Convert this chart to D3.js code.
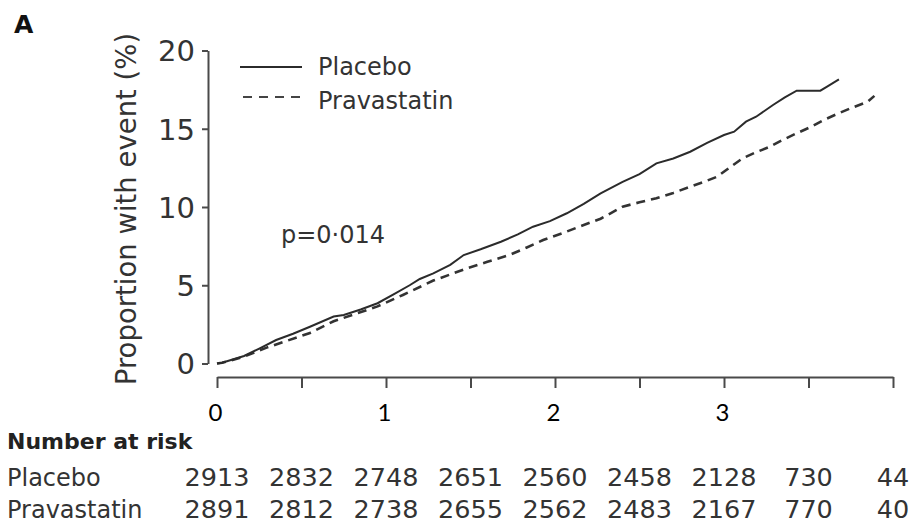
<!DOCTYPE html>
<html>
<head>
<meta charset="utf-8">
<script src="https://cdn.jsdelivr.net/npm/d3@7/dist/d3.min.js"></script>
<style>
  html, body { margin: 0; padding: 0; background: #fff; }
  svg { display: block; }
</style>
</head>
<body>
<svg id="chart" width="915" height="526"></svg>
<script>
// ---- Data ----
const seriesNames = ["Placebo", "Pravastatin"];

const placeboTime = [0, 0.03, 0.16, 0.25, 0.35, 0.45, 0.55, 0.69, 0.75, 0.85, 0.95, 1.05, 1.14, 1.2, 1.28, 1.38, 1.46, 1.56, 1.68, 1.78, 1.87, 1.97, 2.07, 2.17, 2.27, 2.4, 2.5, 2.6, 2.7, 2.8, 2.9, 3.0, 3.06, 3.13, 3.19, 3.29, 3.36, 3.43, 3.57, 3.61, 3.68];
const placeboValue = [0, 0.05, 0.48, 0.95, 1.5, 1.9, 2.35, 3.0, 3.1, 3.45, 3.85, 4.45, 5.0, 5.4, 5.76, 6.3, 6.93, 7.3, 7.78, 8.25, 8.74, 9.1, 9.6, 10.2, 10.87, 11.6, 12.1, 12.79, 13.1, 13.53, 14.1, 14.6, 14.81, 15.45, 15.77, 16.52, 17.0, 17.43, 17.43, 17.69, 18.16];

const pravaTime = [0, 0.03, 0.15, 0.29, 0.4, 0.55, 0.69, 0.8, 0.95, 1.1, 1.28, 1.48, 1.6, 1.73, 1.83, 1.93, 2.05, 2.17, 2.27, 2.4, 2.5, 2.6, 2.7, 2.8, 2.88, 2.96, 3.04, 3.11, 3.19, 3.27, 3.35, 3.43, 3.51, 3.59, 3.67, 3.75, 3.85, 3.89];
const pravaValue = [0, 0.05, 0.4, 1.0, 1.4, 1.95, 2.7, 3.1, 3.65, 4.38, 5.3, 6.08, 6.5, 6.93, 7.4, 7.89, 8.35, 8.85, 9.25, 10.02, 10.3, 10.56, 10.9, 11.3, 11.6, 11.94, 12.57, 13.11, 13.5, 13.85, 14.3, 14.71, 15.1, 15.56, 15.95, 16.31, 16.73, 17.1];

const yTicks = [0, 5, 10, 15, 20];
const xTicks = [0, 0.5, 1, 1.5, 2, 2.5, 3, 3.5, 4];
const xTickLabels = [0, 1, 2, 3];

const riskTimes = [0, 0.5, 1, 1.5, 2, 2.5, 3, 3.5, 4];
const riskPlacebo = [2913, 2832, 2748, 2651, 2560, 2458, 2128, 730, 44];
const riskPrava = [2891, 2812, 2738, 2655, 2562, 2483, 2167, 770, 40];

const panelLabel = "A";
const yTitle = "Proportion with event (%)";
const pText = "p=0·014";
const riskTitle = "Number at risk";

// ---- Drawing ----
const svg = d3.select("#chart");
const FONT = "'DejaVu Sans', sans-serif";
const INK = "#2b2b2b";
const AX = "#4a4a4a";

const x = d3.scaleLinear().domain([0, 4]).range([217, 893]);
const y = d3.scaleLinear().domain([0, 20]).range([363.5, 50.5]);

// Y axis
const yAxis = svg.append("g")
  .attr("transform", "translate(208,0)")
  .call(d3.axisLeft(y).tickValues(yTicks).tickSize(6).tickSizeOuter(0).tickPadding(7));
yAxis.select(".domain").attr("stroke", AX).attr("stroke-width", 2);
yAxis.selectAll(".tick line").attr("stroke", AX).attr("stroke-width", 2);
yAxis.selectAll(".tick text")
  .attr("font-family", FONT).attr("font-size", 29).attr("fill", "#333").attr("dy", "0.36em");

// X axis
const xAxis = svg.append("g")
  .attr("transform", "translate(0,377)")
  .call(d3.axisBottom(x).tickValues(xTicks).tickSize(11).tickSizeOuter(0).tickFormat(""));
xAxis.select(".domain").attr("stroke", AX).attr("stroke-width", 2);
xAxis.selectAll(".tick line").attr("stroke", AX).attr("stroke-width", 2);

svg.append("g").selectAll("text")
  .data(xTickLabels).join("text")
  .attr("x", d => x(d) - 1.5)
  .attr("y", 420.5)
  .attr("text-anchor", "middle")
  .attr("font-family", "Lato, 'Open Sans', sans-serif")
  .attr("font-size", 24)
  .attr("fill", "#000")
  .text(d => d);

// Y title
svg.append("text")
  .attr("transform", "translate(136,209) rotate(-90)")
  .attr("text-anchor", "middle")
  .attr("font-family", FONT).attr("font-size", 27.5).attr("fill", "#333")
  .text(yTitle);

// Panel label
svg.append("text")
  .attr("x", 14).attr("y", 33)
  .attr("font-family", FONT).attr("font-weight", "bold").attr("font-size", 25).attr("fill", "#111")
  .text(panelLabel);

// Curves
const line = d3.line().x(d => x(d[0])).y(d => y(d[1]));
const placeboPts = placeboTime.map((t, i) => [t, placeboValue[i]]);
const pravaPts = pravaTime.map((t, i) => [t, pravaValue[i]]);

svg.append("path").datum(pravaPts)
  .attr("d", line).attr("fill", "none")
  .attr("stroke", "#333").attr("stroke-width", 2.6)
  .attr("stroke-dasharray", "9,6");

svg.append("path").datum(placeboPts)
  .attr("d", line).attr("fill", "none")
  .attr("stroke", INK).attr("stroke-width", 2);

// Legend
const legend = svg.append("g");
legend.append("line").attr("x1", 240).attr("x2", 302).attr("y1", 67).attr("y2", 67)
  .attr("stroke", INK).attr("stroke-width", 2);
legend.append("line").attr("x1", 243).attr("x2", 302).attr("y1", 97).attr("y2", 97)
  .attr("stroke", "#444").attr("stroke-width", 2)
  .attr("stroke-dasharray", "9,7");
legend.append("text").attr("x", 318).attr("y", 75)
  .attr("font-family", FONT).attr("font-size", 24).attr("fill", "#333").text(seriesNames[0]);
legend.append("text").attr("x", 318).attr("y", 109)
  .attr("font-family", FONT).attr("font-size", 24).attr("fill", "#333").text(seriesNames[1]);

// p-value
svg.append("text").attr("x", 281).attr("y", 243)
  .attr("font-family", FONT).attr("font-size", 24).attr("fill", "#333").text(pText);

// Number at risk
svg.append("text").attr("x", 7).attr("y", 449)
  .attr("font-family", FONT).attr("font-weight", "bold").attr("font-size", 22).attr("fill", "#222")
  .text(riskTitle);

const rows = [
  { name: seriesNames[0], values: riskPlacebo, yb: 486 },
  { name: seriesNames[1], values: riskPrava, yb: 518 }
];
rows.forEach(r => {
  svg.append("text").attr("x", 7).attr("y", r.yb)
    .attr("font-family", FONT).attr("font-size", 24).attr("fill", "#333").text(r.name);
  svg.append("g").selectAll("text")
    .data(r.values).join("text")
    .attr("x", (d, i) => x(riskTimes[i]))
    .attr("y", r.yb)
    .attr("text-anchor", "middle")
    .attr("font-family", FONT).attr("font-size", 25.5).attr("fill", "#333")
    .text(d => d);
});
</script>
</body>
</html>
